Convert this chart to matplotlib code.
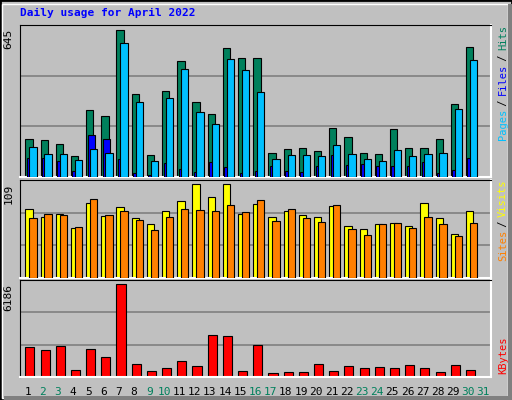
import matplotlib
matplotlib.use("Agg")
import matplotlib.pyplot as plt
from matplotlib.patches import Rectangle
import numpy as np

days = list(range(1, 31))
day_labels = [str(d) for d in range(1, 32)]
weekend_days = [2, 3, 9, 10, 16, 17, 23, 24, 30, 31]
hits = [167,163,146,93,294,268,645,364,98,377,508,329,277,565,521,521,106,124,128,115,215,176,106,102,211,128,128,167,320,569]
files = [132,102,102,76,124,106,587,329,71,347,473,285,233,517,469,373,80,98,98,93,141,102,80,71,119,93,102,106,298,513]
pages = [84,84,71,28,185,167,80,19,10,63,36,23,67,45,19,28,50,28,23,50,98,54,58,50,50,50,67,19,32,84]
visits = [80,71,74,58,87,72,82,69,63,77,89,109,94,109,74,86,71,78,73,71,83,60,57,63,64,60,87,69,51,77]
sites = [69,74,73,59,91,73,78,67,56,70,80,79,77,85,76,90,66,80,69,65,84,57,50,63,64,58,71,62,49,64]
kbytes = [1987,1784,2055,497,1852,1310,6186,835,429,565,1039,700,2800,2732,429,2123,294,361,361,835,429,700,565,632,565,768,565,361,768,497]

W, H = 512, 400
fig = plt.figure(figsize=(W/100, H/100), dpi=100, facecolor="#C0C0C0")
mono = "DejaVu Sans Mono"

fig.patches.append(Rectangle((0, 0), 1, 1, transform=fig.transFigure, fill=False, ec="black", lw=2))
fig.patches.append(Rectangle((2/W, 2/H), 1-6/W, 1-6/H, transform=fig.transFigure, fill=False, ec="white", lw=1))
fig.patches.append(Rectangle((4/W, 0), 1-4/W, 4/H, transform=fig.transFigure, fill=True, fc="#808080", ec="none"))
fig.patches.append(Rectangle((1-4/W, 0), 4/W, 1-4/H, transform=fig.transFigure, fill=True, fc="#808080", ec="none"))

fig.text(20/W, 1-16/H, "Daily usage for April 2022", color="#0000FF", fontsize=8, fontweight="bold", family=mono)

def panel(top, bottom):
    ax = fig.add_axes([20/W, 1-bottom/H, (491-20)/W, (bottom-top)/H])
    ax.set_facecolor("#C0C0C0")
    ax.set_xlim(0.5, 31.5)
    ax.set_xticks([]); ax.set_yticks([])
    for s in ["top", "left"]:
        ax.spines[s].set_color("black")
    for s in ["bottom", "right"]:
        ax.spines[s].set_color("white"); ax.spines[s].set_linewidth(1.5)
    return ax

x = np.array(days, dtype=float)
bw = 0.48

def grid(ax, top):
    ax.set_ylim(0, top)
    for f in (1/3, 2/3):
        ax.axhline(top*f, color="#808080", lw=1.2, zorder=0)

CW = 5.6  # px per character, rotated legend

def legend(ax, parts, hpx, from_top=True):
    n = sum(len(t) for t, _ in parts)
    if from_top:
        y0 = 1 - 3/hpx - n*CW/hpx
    else:
        y0 = 3/hpx
    for txt, col in parts:
        ax.text(1.025, y0, txt, transform=ax.transAxes, rotation=90, ha="center", va="bottom",
                fontsize=7.5, family=mono, color=col)
        y0 += len(txt)*CW/hpx

ax1 = panel(25, 177)
grid(ax1, max(hits)*1.035)
ax1.bar(x-0.15, hits, width=bw, align="edge", color="#00805C", ec="black", lw=0.8, zorder=2)
ax1.bar(x-0.05, pages, width=bw, align="edge", color="#0000FF", ec="black", lw=0.8, zorder=3)
ax1.bar(x+0.11, files, width=bw, align="edge", color="#00C0FF", ec="black", lw=0.8, zorder=4)
ax1.text(-0.025, 1-4/152, "645", transform=ax1.transAxes, rotation=90, ha="center", va="top", fontsize=8, family=mono)
legend(ax1, [("Pages", "#00C0FF"), (" / ", "#000000"), ("Files", "#0000FF"), (" / ", "#000000"), ("Hits", "#00805C")], 152)

ax2 = panel(180, 278)
grid(ax2, max(visits)*1.04)
ax2.bar(x-0.15, visits, width=bw, align="edge", color="#FFFF00", ec="black", lw=0.8, zorder=2)
ax2.bar(x+0.11, sites, width=bw, align="edge", color="#FF8000", ec="black", lw=0.8, zorder=3)
ax2.text(-0.025, 1-4/98, "109", transform=ax2.transAxes, rotation=90, ha="center", va="top", fontsize=8, family=mono)
legend(ax2, [("Sites", "#FF8000"), (" / ", "#000000"), ("Visits", "#FFFF00")], 98)

ax3 = panel(280, 377)
grid(ax3, max(kbytes)*1.04)
ax3.bar(x-0.15, kbytes, width=0.6, align="edge", color="#FF0000", ec="black", lw=0.8, zorder=2)
ax3.text(-0.025, 1-4/97, "6186", transform=ax3.transAxes, rotation=90, ha="center", va="top", fontsize=8, family=mono)
legend(ax3, [("KBytes", "#FF0000")], 97, from_top=False)

for i, lab in enumerate(day_labels):
    d = i + 1
    ax3.text(d, -0.1, lab, transform=ax3.get_xaxis_transform(), ha="center", va="top", fontsize=8, family=mono,
             color="#00805C" if d in weekend_days else "black")

fig.savefig("out.png", dpi=100, facecolor=fig.get_facecolor())
